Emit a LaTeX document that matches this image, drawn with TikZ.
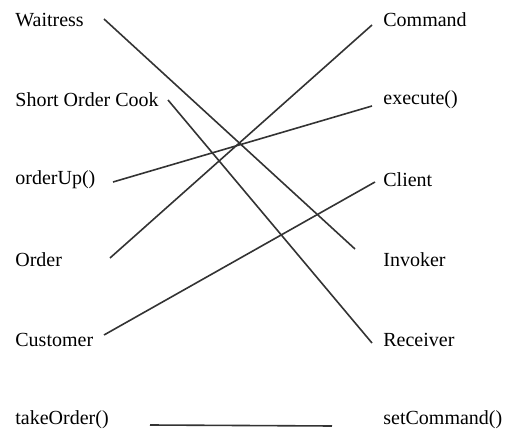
\documentclass[tikz,border=0pt]{standalone}
\usepackage{fontspec}
\setmainfont{Liberation Serif}

\begin{document}
\begin{tikzpicture}[x=0.5pt,y=0.5pt, every node/.style={font=\fontsize{10}{12}\selectfont, inner sep=0pt, anchor=west}, link/.style={black!80, line width=0.8pt}]
    \useasboundingbox (0,0) rectangle (510,435);
    % left column
    \node (waitress) at (15,415) {Waitress};
    \node (cook) at (15,335) {Short Order Cook};
    \node (orderup) at (15,255) {orderUp()};
    \node (order) at (15,175) {Order};
    \node (customer) at (15,95) {Customer};
    \node (takeorder) at (15,15) {takeOrder()};
    % right column
    \node (command) at (383,415) {Command};
    \node (execute) at (383,335) {execute()};
    \node (client) at (383,255) {Client};
    \node (invoker) at (383,175) {Invoker};
    \node (receiver) at (383,95) {Receiver};
    \node (setcommand) at (383,15) {setCommand()};
    % matches
    \draw[link] ([shift={(89,1)}]waitress.west) -- ([shift={(-28,11)}]invoker.west);
    \draw[link] ([shift={(153,0)}]cook.west) -- ([shift={(-11,-3)}]receiver.west);
    \draw[link] ([shift={(98,-2)}]orderup.west) -- ([shift={(-11,-6)}]execute.west);
    \draw[link] ([shift={(95,2)}]order.west) -- ([shift={(-11,-5)}]command.west);
    \draw[link] ([shift={(89,5)}]customer.west) -- ([shift={(-8,-2)}]client.west);
    \draw[link] ([shift={(135,-5)}]takeorder.west) -- ([shift={(-51,-6)}]setcommand.west);
\end{tikzpicture}
\end{document}
